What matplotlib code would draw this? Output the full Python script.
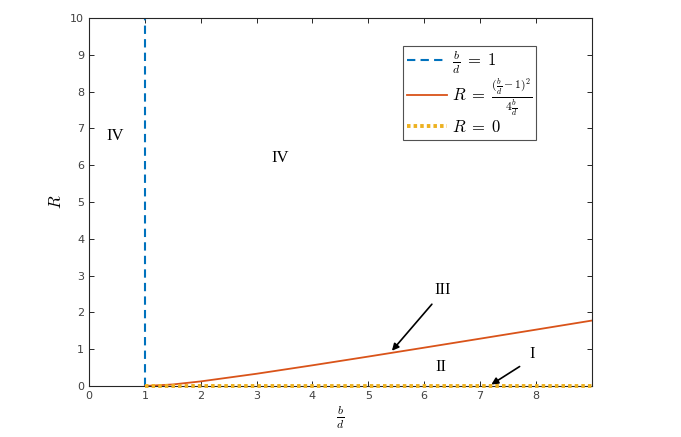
import numpy as np
from matplotlib import pyplot as plt

plt.rcParams['mathtext.fontset'] = 'cm'

# values
bd = [1, 1.5, 2, 3, 4, 5, 6, 7, 8, 9]
R_curve = [0, 0.042, 0.125, 0.333, 0.5625, 0.8, 1.042, 1.286, 1.531, 1.778]
x_vert = [1, 1]
y_vert = [0, 10]
x_zero = [1, 9]
y_zero = [0, 0]

fig = plt.figure(figsize=(6.81, 4.37), dpi=100)
ax = fig.add_axes([0.1307, 0.1167, 0.7383, 0.8421])

ax.plot(x_vert, y_vert, '--', color='#0072BD', lw=1.5, dashes=(4, 2.5),
        label=r'$\frac{b}{d}\;=\;1$')
ax.plot(bd, R_curve, '-', color='#D95319', lw=1.3,
        label=r'$R\;=\;\frac{(\frac{b}{d}-1)^2}{4\frac{b}{d}}$')
ax.plot(x_zero, y_zero, color='#EDB120', lw=2.8, dashes=(0.9, 0.8),
        clip_on=False, zorder=5, label=r'$R\;=\;0$')

ax.set_xlim(0, 9)
ax.set_ylim(0, 10)
ax.set_xticks(range(0, 9))
ax.set_yticks(range(0, 11))
ax.tick_params(direction='in', top=True, right=True, labelsize=8,
               colors='#262626', labelcolor='#404040', length=3.5, width=0.7)
for s in ax.spines.values():
    s.set_color('#262626')
    s.set_linewidth(0.8)

ax.set_xlabel(r'$\frac{b}{d}$', fontsize=12, labelpad=2)
ax.set_ylabel(r'$R$', fontsize=12)

serif = 'Liberation Serif'
ax.text(0.47, 6.8, 'IV', family=serif, fontsize=12, ha='center', va='center')
ax.text(3.42, 6.2, 'IV', family=serif, fontsize=12, ha='center', va='center')
ax.text(6.33, 2.6, 'III', family=serif, fontsize=12, ha='center', va='center')
ax.text(6.3, 0.52, 'II', family=serif, fontsize=12, ha='center', va='center')
ax.text(7.94, 0.87, 'I', family=serif, fontsize=12, ha='center', va='center')
ax.annotate('', xy=(5.39, 0.9), xytext=(6.17, 2.28),
            arrowprops=dict(arrowstyle='-|>', color='k', lw=1.2, mutation_scale=10))
ax.annotate('', xy=(7.16, 0.0), xytext=(7.75, 0.57),
            arrowprops=dict(arrowstyle='-|>', color='k', lw=1.2, mutation_scale=10),
            zorder=6)

leg = ax.legend(loc='upper left', bbox_to_anchor=(0.625, 0.925), fontsize=12,
                fancybox=False, edgecolor='#262626', handlelength=2.4,
                handletextpad=0.3, borderpad=0.2, labelspacing=0.0,
                borderaxespad=0)
leg.get_frame().set_linewidth(0.8)

plt.savefig('out.png', dpi=100)
